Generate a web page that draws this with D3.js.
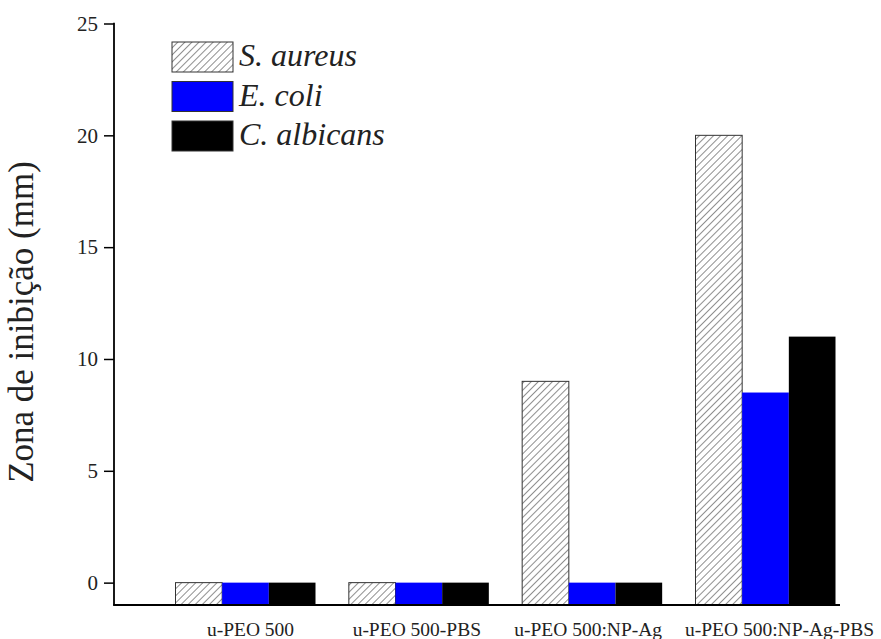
<!DOCTYPE html>
<html><head><meta charset="utf-8">
<script src="https://cdn.jsdelivr.net/npm/d3@7"></script>
<style>body{margin:0;background:#fff}svg{display:block}
svg text{font-family:'Liberation Serif','Times New Roman',serif !important;}</style>
</head><body>
<script>
const categories = ["u-PEO 500", "u-PEO 500-PBS", "u-PEO 500:NP-Ag", "u-PEO 500:NP-Ag-PBS"];
const seriesNames = ["S. aureus", "E. coli", "C. albicans"];
const sAureus = [0, 0, 9, 20];
const eColi = [0, 0, 0, 8.5];
const cAlbicans = [0, 0, 0, 11];
const yTicks = [0, 5, 10, 15, 20, 25];
const yLabel = "Zona de inibição (mm)";

const W = 881, H = 639;
const FONT = "'Liberation Serif', 'Times New Roman', serif";
const svg = d3.select("body").append("svg").attr("width", W).attr("height", H);
const defs = svg.append("defs");
const pat = defs.append("pattern").attr("id", "hatch").attr("patternUnits", "userSpaceOnUse")
  .attr("width", 5).attr("height", 5).attr("patternTransform", "rotate(45)");
pat.append("rect").attr("width", 5).attr("height", 5).attr("fill", "#fff");
pat.append("line").attr("x1", 0).attr("y1", 0).attr("x2", 0).attr("y2", 5)
  .attr("stroke", "#444").attr("stroke-width", 1.2);

const fills = ["url(#hatch)", "#0000ff", "#000000"];
const values = [sAureus, eColi, cAlbicans];

const axisX = 114, axisRight = 840, axisBottom = 605, axisTop = 23.5;
const y = d3.scaleLinear().domain([-1, 25]).range([axisBottom, axisTop]);
const x0 = d3.scalePoint().domain(categories).range([245.5, 765.5]);
const groupW = 140;
const xs = d3.scaleBand().domain(seriesNames).range([-groupW / 2, groupW / 2]);
// layout: horizontal nudges of the category labels as placed in the original figure
const labelNudge = [5, -2, -4, 14];

// bars
seriesNames.forEach((s, si) => {
  svg.append("g").selectAll("rect").data(categories).join("rect")
    .attr("x", d => x0(d) + xs(s))
    .attr("width", xs.bandwidth())
    .attr("y", (d, i) => y(values[si][i]))
    .attr("height", (d, i) => y(-1) - y(values[si][i]))
    .attr("fill", fills[si])
    .attr("stroke", si === 0 ? "#333" : "none")
    .attr("stroke-width", 1);
});

// y axis
const yAxis = d3.axisLeft(y).tickValues(yTicks).tickSize(10).tickPadding(6);
const gy = svg.append("g").attr("transform", `translate(${axisX},0)`).call(yAxis)
  .attr("font-family", FONT).attr("font-size", 21);
gy.select(".domain").remove();
gy.selectAll(".tick line").attr("stroke", "#000").attr("stroke-width", 1.5);
gy.selectAll(".tick text").attr("fill", "#222");
svg.append("line").attr("x1", axisX).attr("x2", axisX).attr("y1", axisTop - 0.75).attr("y2", axisBottom)
  .attr("stroke", "#000").attr("stroke-width", 1.8);
svg.append("line").attr("x1", axisX - 0.9).attr("x2", axisRight).attr("y1", axisBottom).attr("y2", axisBottom)
  .attr("stroke", "#000").attr("stroke-width", 1.8);

// x labels
svg.append("g").selectAll("text").data(categories).join("text")
  .attr("x", (d, i) => x0(d) + labelNudge[i]).attr("y", 636).attr("text-anchor", "middle")
  .attr("font-family", FONT).attr("font-size", 19.5).attr("fill", "#222")
  .text(d => d);

// y label
svg.append("text").attr("transform", "translate(33,322) rotate(-90)").attr("text-anchor", "middle")
  .attr("font-family", FONT).attr("font-size", 35).attr("fill", "#222")
  .text(yLabel);

// legend
const leg = svg.append("g");
seriesNames.forEach((s, i) => {
  const cy = 57 + i * 39.5;
  leg.append("rect").attr("x", 172).attr("y", cy - 15).attr("width", 61).attr("height", 30)
    .attr("fill", fills[i]).attr("stroke", "#333").attr("stroke-width", 1);
  leg.append("text").attr("x", 239).attr("y", cy + 9)
    .attr("font-family", FONT).attr("font-style", "italic")
    .attr("font-size", 32).attr("fill", "#222").text(s);
});
</script>
</body></html>
